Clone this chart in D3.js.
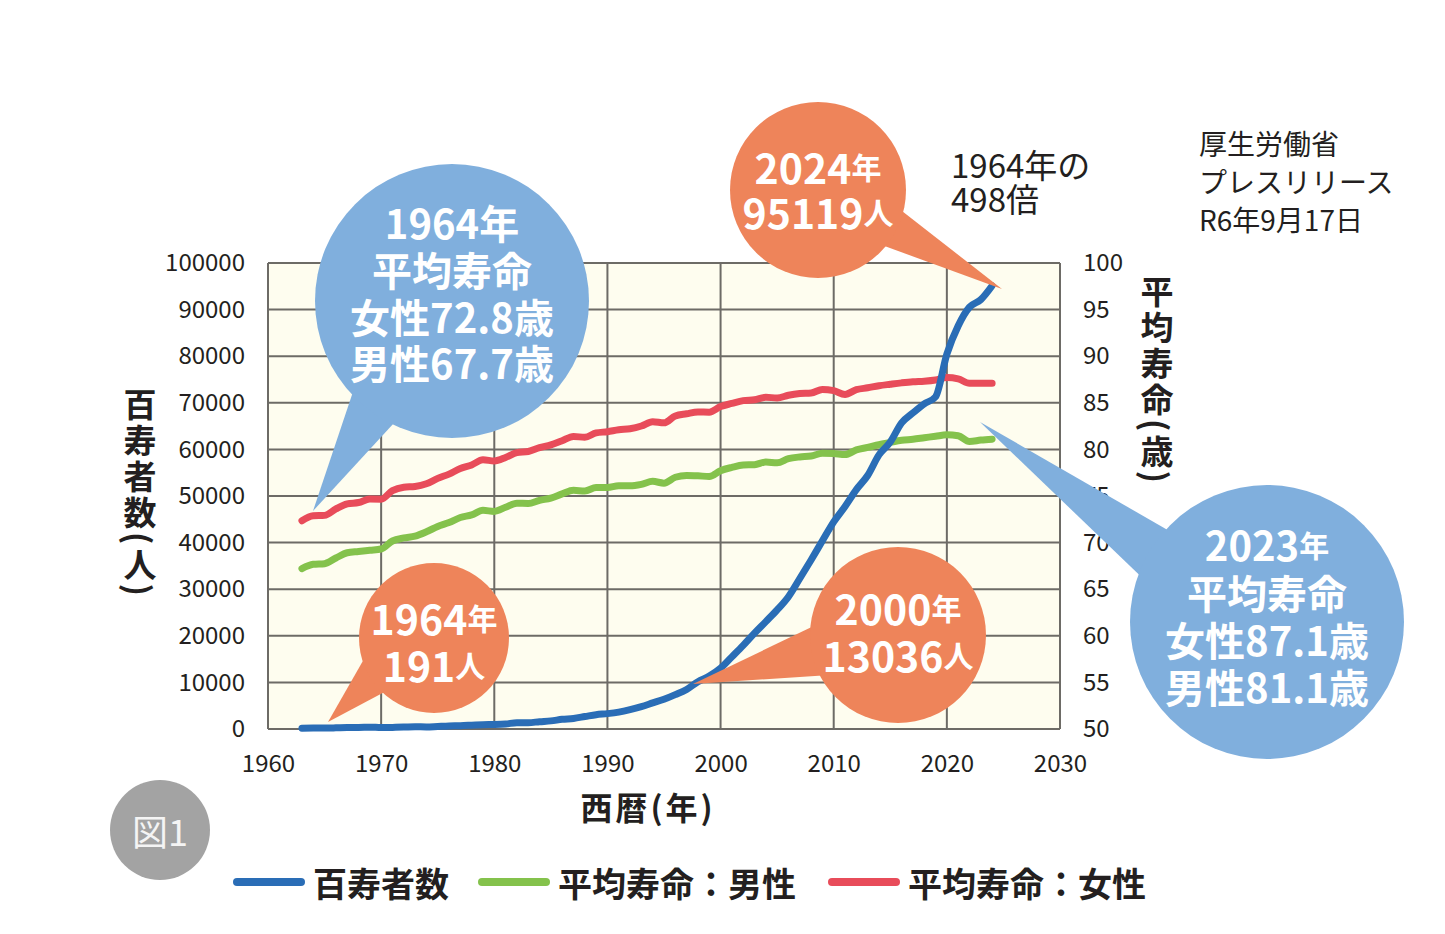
<!DOCTYPE html>
<html>
<head>
<meta charset="utf-8">
<script src="https://cdn.jsdelivr.net/npm/d3@7"></script>
<style>
  body { margin: 0; background: #fff; }
  svg text { font-family: "Noto Sans CJK JP", "Noto Sans", sans-serif; }
</style>
</head>
<body>
<svg id="chart" width="1445" height="934"></svg>
<script>
// 百寿者数（人）, 1963-2024
var years = d3.range(1963, 2025);
var centenarians = [153, 191, 198, 252, 327, 327, 397, 310, 339, 405,
  495, 427, 548, 666, 715, 824, 937, 968, 1072, 1354,
  1354, 1567, 1740, 2083, 2271, 2668, 3078, 3298, 3625, 4152,
  4802, 5593, 6378, 7373, 8491, 10158, 11346, 13036, 15475, 17934,
  20561, 23038, 25554, 28395, 32295, 36276, 40399, 44449, 47756, 51376,
  54397, 58820, 61568, 65692, 67824, 69785, 71274, 80450, 86510, 90526,
  92139, 95119];
// 平均寿命：男性 / 女性（歳）
var lifeMale = [67.21, 67.67, 67.74, 68.35, 68.91, 69.05, 69.18, 69.31, 70.17, 70.50,
  70.70, 71.16, 71.73, 72.15, 72.69, 72.97, 73.46, 73.35, 73.79, 74.22,
  74.20, 74.54, 74.78, 75.23, 75.61, 75.54, 75.91, 75.92, 76.11, 76.09,
  76.25, 76.57, 76.38, 77.01, 77.19, 77.16, 77.10, 77.72, 78.07, 78.32,
  78.36, 78.64, 78.56, 79.00, 79.19, 79.29, 79.59, 79.55, 79.44, 79.94,
  80.21, 80.50, 80.75, 80.98, 81.09, 81.25, 81.41, 81.56, 81.47, 80.85,
  81.0, 81.1];
var lifeFemale = [72.34, 72.87, 72.92, 73.61, 74.15, 74.30, 74.67, 74.66, 75.58, 75.94,
  76.02, 76.31, 76.89, 77.35, 77.95, 78.33, 78.89, 78.76, 79.13, 79.66,
  79.78, 80.18, 80.48, 80.93, 81.39, 81.30, 81.77, 81.90, 82.11, 82.22,
  82.51, 82.98, 82.85, 83.59, 83.82, 84.01, 83.99, 84.60, 84.93, 85.23,
  85.33, 85.59, 85.52, 85.81, 85.99, 86.05, 86.44, 86.30, 85.90, 86.41,
  86.61, 86.83, 86.99, 87.14, 87.26, 87.32, 87.45, 87.71, 87.57, 87.09,
  87.1, 87.1];

var xTicks = d3.range(1960, 2031, 10);
var leftTicks = d3.range(0, 100001, 10000);
var rightTicks = d3.range(50, 101, 5);

var seriesNames = ["百寿者数", "平均寿命：男性", "平均寿命：女性"];
var seriesColors = ["#2a6db6", "#84c24c", "#e84c5a"];

var svg = d3.select("#chart");

var x = d3.scaleLinear().domain([1960, 2030]).range([268, 1060]);
var yL = d3.scaleLinear().domain([0, 100000]).range([729, 263]);
var yR = d3.scaleLinear().domain([50, 100]).range([729, 263]);

// plot background + grid
svg.append("rect")
  .attr("x", x(1960)).attr("y", yL(100000))
  .attr("width", x(2030) - x(1960)).attr("height", yL(0) - yL(100000))
  .attr("fill", "#fefdef");

var grid = svg.append("g").attr("stroke", "#6d6b66").attr("stroke-width", 2);
grid.selectAll(".v").data(xTicks).enter().append("line")
  .attr("x1", d => x(d)).attr("x2", d => x(d))
  .attr("y1", yL(100000)).attr("y2", yL(0));
grid.selectAll(".h").data(leftTicks).enter().append("line")
  .attr("x1", x(1960)).attr("x2", x(2030))
  .attr("y1", d => yL(d)).attr("y2", d => yL(d));

// axes (labels only)
var axL = svg.append("g").attr("transform", "translate(" + x(1960) + ",0)")
  .call(d3.axisLeft(yL).tickValues(leftTicks).tickSize(0).tickPadding(23).tickFormat(d3.format("d")));
var axR = svg.append("g").attr("transform", "translate(" + x(2030) + ",0)")
  .call(d3.axisRight(yR).tickValues(rightTicks).tickSize(0).tickPadding(23).tickFormat(d3.format("d")));
var axB = svg.append("g").attr("transform", "translate(0," + yL(0) + ")")
  .call(d3.axisBottom(x).tickValues(xTicks).tickSize(0).tickPadding(26).tickFormat(d3.format("d")));
[axL, axR, axB].forEach(function(a) {
  a.select(".domain").remove();
  a.selectAll("text").attr("font-size", 24).attr("fill", "#231f20")
    .style("font-family", "'Noto Sans CJK JP', sans-serif");
});

// axis titles
svg.append("text").attr("x", 140).attr("y", 388)
  .style("writing-mode", "vertical-rl").style("letter-spacing", "3px")
  .attr("font-size", 33).attr("font-weight", 700)
  .attr("fill", "#231f20").text("百寿者数(人)");
svg.append("text").attr("x", 1157).attr("y", 275)
  .style("writing-mode", "vertical-rl").style("letter-spacing", "3px")
  .attr("font-size", 33).attr("font-weight", 700)
  .attr("fill", "#231f20").text("平均寿命(歳)");
svg.append("text").attr("x", 648).attr("y", 806).attr("text-anchor", "middle")
  .attr("dominant-baseline", "central").style("letter-spacing", "3px")
  .attr("font-size", 32).attr("font-weight", 700)
  .attr("fill", "#231f20").text("西暦(年)");

// lines
var lineL = d3.line().x((d, i) => x(years[i])).y(d => yL(d)).curve(d3.curveMonotoneX);
var lineR = d3.line().x((d, i) => x(years[i])).y(d => yR(d)).curve(d3.curveMonotoneX);
var lines = svg.append("g").attr("fill", "none").attr("stroke-width", 7)
  .attr("stroke-linecap", "round").attr("stroke-linejoin", "round");
lines.append("path").attr("d", lineR(lifeMale)).attr("stroke", seriesColors[1]);
lines.append("path").attr("d", lineR(lifeFemale)).attr("stroke", seriesColors[2]);
lines.append("path").attr("d", lineL(centenarians)).attr("stroke", seriesColors[0]);

// callouts
var blue = "#80afdd", orange = "#ee845a";
var callouts = [
  { cx: 452, cy: 301, r: 137, fill: blue, tail: [[313, 511], [364, 359], [417, 398]],
    lines: [[222, [["1964年", 40]]], [269, [["平均寿命", 40]]], [316, [["女性72.8歳", 40]]], [362, [["男性67.7歳", 40]]]] },
  { cx: 818, cy: 190, r: 88, fill: orange, tail: [[1002, 289], [893, 204], [879, 244]],
    lines: [[166, [["2024", 41], ["年", 30]]], [211, [["95119", 41], ["人", 30]]]] },
  { cx: 434, cy: 638, r: 75, fill: orange, tail: [[328, 722], [368, 652], [392, 688]],
    lines: [[617, [["1964", 41], ["年", 30]]], [664, [["191", 41], ["人", 30]]]] },
  { cx: 898, cy: 635, r: 88, fill: orange, tail: [[693, 684], [820, 623], [830, 675]],
    lines: [[607, [["2000", 41], ["年", 30]]], [654, [["13036", 41], ["人", 30]]]] },
  { cx: 1267, cy: 622, r: 137, fill: blue, tail: [[980, 422], [1185, 540], [1155, 590]],
    lines: [[544, [["2023", 40], ["年", 30]]], [592, [["平均寿命", 40]]], [639, [["女性87.1歳", 40]]], [686, [["男性81.1歳", 40]]]] }
];
callouts.forEach(function(c) {
  var g = svg.append("g");
  g.append("polygon").attr("points", c.tail.map(p => p.join(",")).join(" ")).attr("fill", c.fill);
  g.append("circle").attr("cx", c.cx).attr("cy", c.cy).attr("r", c.r).attr("fill", c.fill);
  c.lines.forEach(function(l) {
    var t = g.append("text").attr("x", c.cx).attr("y", l[0]).attr("text-anchor", "middle")
      .attr("dominant-baseline", "central").attr("fill", "#fff").attr("font-weight", 700);
    l[1].forEach(function(s) { t.append("tspan").attr("font-size", s[1]).text(s[0]); });
  });
});

// notes
var note = svg.append("g").attr("fill", "#231f20");
note.append("text").attr("x", 951).attr("y", 178).attr("font-size", 33).text("1964年の");
note.append("text").attr("x", 951).attr("y", 212).attr("font-size", 33).text("498倍");
["厚生労働省", "プレスリリース", "R6年9月17日"].forEach(function(s, i) {
  note.append("text").attr("x", 1199).attr("y", 155 + i * 38).attr("font-size", 28).text(s);
});

// 図1 badge
svg.append("circle").attr("cx", 160).attr("cy", 830).attr("r", 50).attr("fill", "#a3a3a3");
svg.append("text").attr("x", 160).attr("y", 830).attr("text-anchor", "middle")
  .attr("dominant-baseline", "central").attr("font-size", 36).attr("fill", "#f4f4f4").text("図1");

// legend
var legX = [237, 482, 832];
var leg = svg.append("g");
seriesNames.forEach(function(n, i) {
  leg.append("line").attr("x1", legX[i]).attr("x2", legX[i] + 64)
    .attr("y1", 882).attr("y2", 882).attr("stroke", seriesColors[i])
    .attr("stroke-width", 8).attr("stroke-linecap", "round");
  leg.append("text").attr("x", legX[i] + 76).attr("y", 882).attr("dominant-baseline", "central")
    .attr("font-size", 34).attr("font-weight", 700).attr("fill", "#231f20").text(n);
});
</script>
</body>
</html>
